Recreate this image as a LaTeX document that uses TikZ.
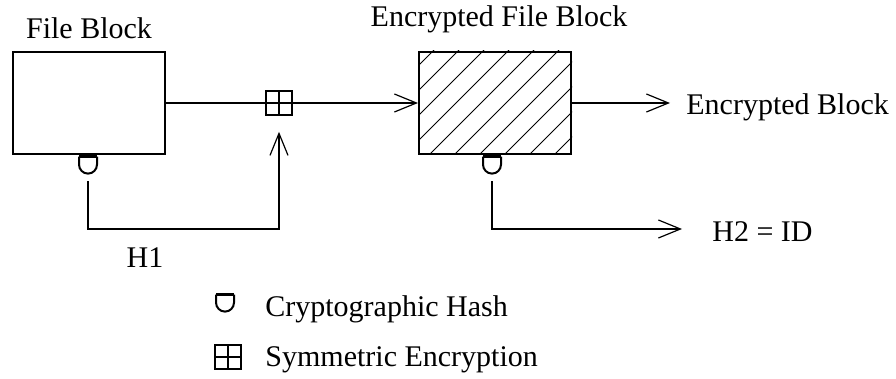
\documentclass[tikz,border=0pt]{standalone}
\usepackage{fontspec}
\setmainfont{Liberation Serif}
\usepackage{tikz}
\usetikzlibrary{positioning,arrows.meta,calc}

\tikzset{
  blockbox/.style={draw,line width=1pt,inner sep=0,minimum width=76pt,minimum height=51pt},
  conn/.style={line width=0.65pt},
  arr/.style={conn,-{Straight Barb[length=11pt,width=9pt,line width=0.6pt]}},
  lbl/.style={inner sep=0,font=\fontsize{15pt}{18pt}\selectfont},
  hashsym/.style={inner sep=0,minimum width=9pt,minimum height=9pt},
  encsym/.style={draw,line width=0.8pt,inner sep=0,minimum width=13pt,minimum height=12pt,
    path picture={\draw[line width=0.8pt] (path picture bounding box.north) -- (path picture bounding box.south)
      (path picture bounding box.west) -- (path picture bounding box.east);}}
}
% hash mark: thick bar on top of a cup
\newcommand{\HashMark}[1]{%
  \draw[line width=1.8pt] ($(#1.north)+(-9,0)$) -- ++(18,0);
  \draw[line width=1pt] ($(#1.north)+(-9,0)$) -- ++(0,8) arc[start angle=180,end angle=0,radius=9] -- ++(0,-8);}

\begin{document}
\begin{tikzpicture}[x=0.5pt,y=-0.5pt]
  \useasboundingbox (0,0) rectangle (896,379);
  % blocks
  \node[blockbox] (fileblock) at (89,103) {};
  \node[blockbox] (encblock) at (495,103) {};
  \begin{scope}
    \clip (encblock.south west) rectangle (encblock.north east);
    \foreach \c in {459,484,...,759} \draw[line width=0.5pt] (\c,0) -- ++(-250,250);
  \end{scope}
  \node[blockbox] at (encblock) {};
  \node[encsym] (encop) at (279,103) {};
  \node[lbl,anchor=base] (filetitle) at (89,39) {File Block};
  \node[lbl,anchor=base] (enctitle) at (499,27) {Encrypted File Block};
  \node[lbl,anchor=base west] (outlabel) at (686,115) {Encrypted Block};
  \node[lbl,anchor=base west] (idlabel) at (712,242) {H2 = ID};
  \node[lbl,anchor=base] (hlabel) at (145,268) {H1};
  % hashes
  \node[hashsym] (hash1) at (88,166) {};
  \node[hashsym] (hash2) at (492,166) {};
  \HashMark{hash1}
  \HashMark{hash2}
  \coordinate (h1turn) at (279,229);
  % connectors
  \draw[conn] (fileblock.east) -- (encop.west);
  \draw[arr] (encop.east) -- (encblock.west);
  \draw[arr,shorten >=8pt] (encblock.east) -- (encblock.east -| outlabel.west);
  \draw[arr,shorten <=3pt,shorten >=8pt] (hash1.south) |- (h1turn) -- (encop.south);
  \draw[arr,shorten <=3pt,shorten >=15pt] (hash2.south) |- (idlabel.west |- h1turn);
  % legend
  \node[hashsym] (keyhash) at (225,304) {};
  \HashMark{keyhash}
  \node[encsym] (keyenc) at (228,357) {};
  \node[lbl,anchor=base west] (keyhashtext) at (265,317) {Cryptographic Hash};
  \node[lbl,anchor=base west] (keyenctext) at (265,367) {Symmetric Encryption};
\end{tikzpicture}
\end{document}
